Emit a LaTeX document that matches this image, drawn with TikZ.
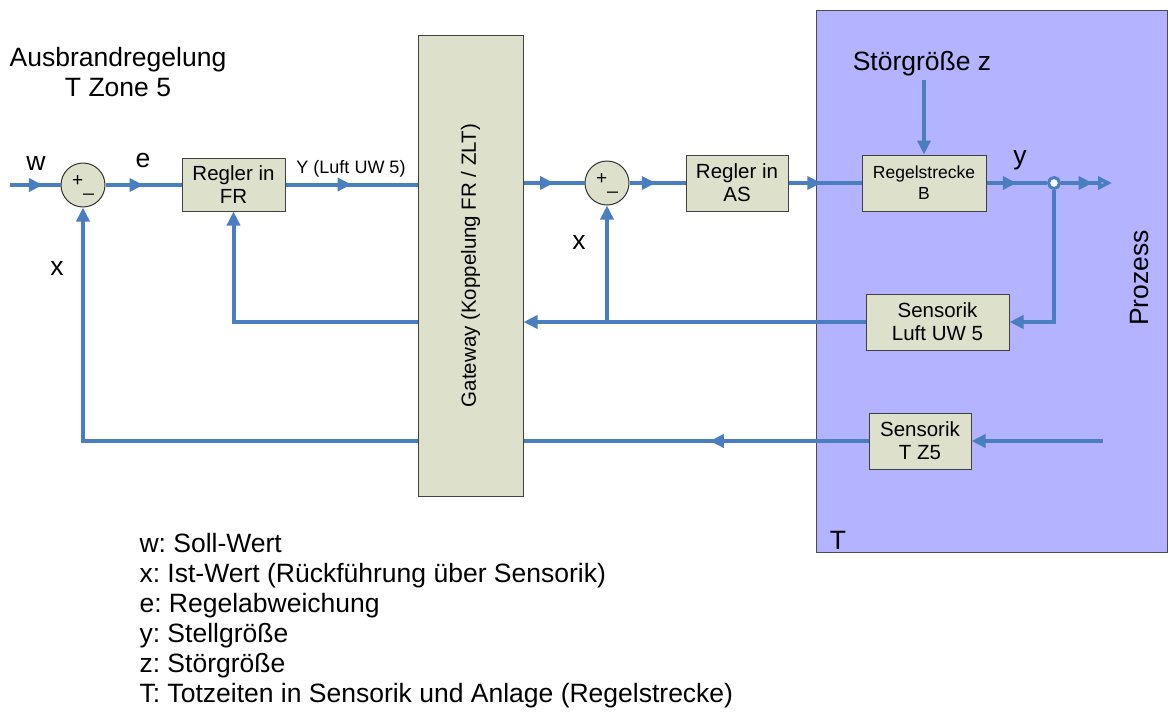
\documentclass[tikz,border=0pt]{standalone}
\usepackage{fontspec}
\setmainfont{Liberation Sans}
\usetikzlibrary{positioning,arrows.meta,decorations.markings}
\definecolor{flowblue}{RGB}{74,126,193}
\definecolor{boxfill}{RGB}{221,224,203}
\definecolor{procfill}{RGB}{179,179,255}
\frenchspacing
\begin{document}
\begin{tikzpicture}[x=1pt,y=-1pt,
	block/.style={draw=black!75,fill=boxfill,line width=1pt,align=center,inner sep=0pt,font=\fontsize{20.5}{23}\selectfont},
	summer/.style={circle,draw=black!80,fill=boxfill,line width=1pt,minimum size=44pt,inner sep=0pt,font=\fontsize{19}{19}\selectfont},
	flow/.style={draw=flowblue,line width=4pt},
	tip/.style={-{Triangle[length=14pt,width=13pt]}},
	midarrow/.style={postaction={decorate},decoration={markings,mark=at position #1 with {\arrow[flowblue]{Triangle[length=14pt,width=13pt]}}}},
	lbl/.style={font=\fontsize{26.5}{30}\selectfont}]
	\useasboundingbox (0,0) rectangle (1168,718);

	% Prozess area
	\node[draw=black!70,fill=procfill,line width=1pt,minimum width=351pt,minimum height=542pt,inner sep=0pt] (proz) at (991.5,281) {};
	\node[lbl,rotate=90] (prozlabel) at (1140,278) {Prozess};
	\node[lbl] (tlabel) at (838,540) {T};

	% title
	\node[lbl,align=center] (title) at (118,72) {Ausbrandregelung\\T Zone 5};

	% blocks
	\node[summer] (sum1) at (83,185) {\raisebox{2pt}{+}\raisebox{-3pt}{\_}};
	\node[block,minimum width=103pt,minimum height=53pt] (fr) at (233.5,184.5) {Regler in\\FR};
	\node[block,minimum width=105pt,minimum height=461pt] (gw) at (470.5,265.5) {};
	\node[rotate=90,font=\fontsize{20.5}{23}\selectfont] (gwtext) at (gw) {Gateway (Koppelung FR / ZLT)};
	\node[summer] (sum2) at (607,183) {\raisebox{2pt}{+}\raisebox{-3pt}{\_}};
	\node[block,minimum width=102pt,minimum height=56pt] (as) at (737,183) {Regler in\\AS};
	\node[block,minimum width=124pt,minimum height=56pt,font=\fontsize{17.5}{21}\selectfont] (rs) at (924,183) {Regelstrecke\\B};
	\node[block,minimum width=143pt,minimum height=56pt] (sl) at (937.5,322) {Sensorik\\Luft UW 5};
	\node[block,minimum width=102pt,minimum height=56pt] (tz) at (920,441) {Sensorik\\T Z5};

	% labels
	\node[lbl] (wlabel) at (36,163) {w};
	\node[lbl] (elabel) at (143,160) {e};
	\node[font=\fontsize{18}{20}\selectfont] (ylabel) at (351,169) {Y (Luft UW 5)};
	\node[lbl] (x1label) at (57,268) {x};
	\node[lbl] (x2label) at (579,242) {x};
	\node[lbl] (y2label) at (1020,160) {y};
	\node[lbl] (zlabel) at (922,64) {Störgröße z};

	% coordinates
	\coordinate (win) at (10,185);
	\coordinate (xout) at (1112,183);
	\coordinate (tin) at (1103,441);
	\node[circle,draw=flowblue,fill=white,line width=3pt,minimum size=11pt,inner sep=0pt] (branch) at (1054,183) {};

	% forward path
	\draw[flow,midarrow=0.65] (win) -- (sum1.west);
	\draw[flow,midarrow=0.5] (sum1.east) -- (sum1.east -| fr.west);
	\draw[flow,midarrow=0.5] (fr.east) -- (fr.east -| gw.west);
	\draw[flow,midarrow=0.5] (gw.east |- sum2) -- (sum2.west);
	\draw[flow,midarrow=0.47] (sum2.east) -- (as.west);
	\draw[flow,midarrow=0.45] (as.east) -- (rs.west);
	\draw[flow,midarrow=0.5] (rs.east) -- (branch.west);
	\draw[flow,midarrow=0.62,-{Triangle[open,length=14pt,width=13pt]}] (branch.east) -- (xout);
	\draw[flow,tip] (zlabel.south -| rs.north) -- (rs.north);

	% feedback paths
	\draw[flow,tip] (branch.south) |- (sl.east);
	\draw[flow,tip] (sl.west) -- (sl.west -| gw.east);
	\draw[flow,tip] (sum2 |- sl.west) -- (sum2.south);
	\draw[flow,tip] (gw.west |- sl.west) -| (fr.south);
	\draw[flow,tip] (tin) -- (tz.east);
	\draw[flow,midarrow=0.46] (tz.west) -- (tz.west -| gw.east);
	\draw[flow,tip] (gw.west |- tz.west) -| (sum1.south);

	% legend
	\node[lbl,anchor=north west,align=left] (legend) at (136,530) {w: Soll-Wert\\x: Ist-Wert (Rückführung über Sensorik)\\e: Regelabweichung\\y: Stellgröße\\z: Störgröße\\T: Totzeiten in Sensorik und Anlage (Regelstrecke)};
\end{tikzpicture}
\end{document}
